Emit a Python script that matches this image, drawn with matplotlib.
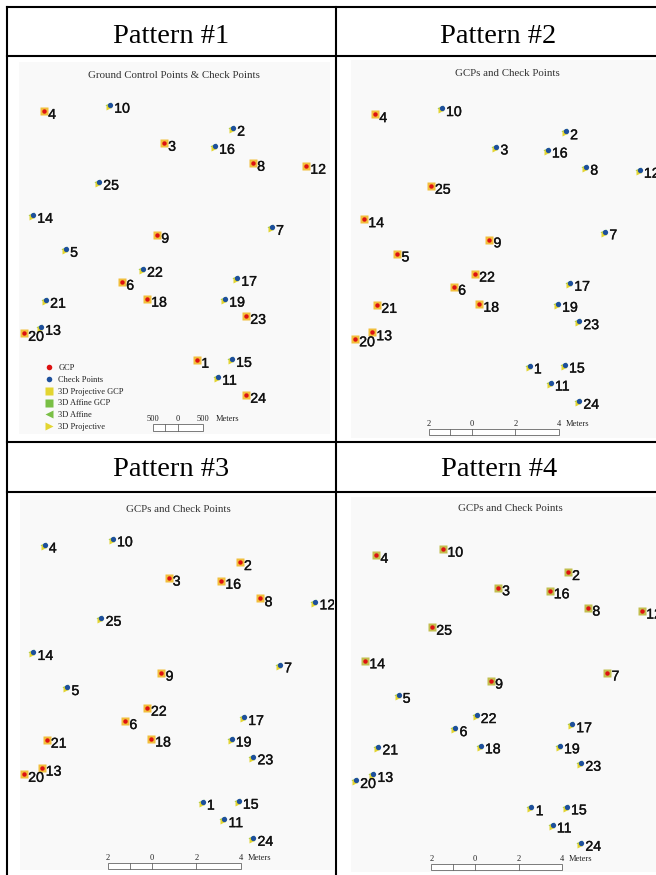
import matplotlib
matplotlib.use('Agg')
import matplotlib.pyplot as plt
import matplotlib.patheffects as pe
from matplotlib.lines import Line2D
from matplotlib.patches import Rectangle
from matplotlib import transforms

# point ids and map coordinates (meters, local grid)
point_ids = list(range(1, 26))
east = [8.05, 9.72, 6.51, 0.93, 1.95, 4.56, 11.53, 10.65, 6.19, 4.00,
        9.02, 13.12, 0.79, 0.42, 9.67, 8.88, 9.91, 5.72, 9.35, 0.00,
        1.02, 5.53, 10.33, 10.33, 3.49]
north = [1.63, 12.42, 11.72, 13.21, 6.79, 5.26, 7.81, 10.79, 7.44, 13.49,
         0.84, 10.65, 3.16, 8.37, 1.67, 11.58, 5.44, 4.47, 4.47, 2.88,
         4.42, 5.86, 3.67, 0.00, 9.91]

pattern_names = ['Pattern #1', 'Pattern #2', 'Pattern #3', 'Pattern #4']
map_titles = ['Ground Control Points & Check Points', 'GCPs and Check Points',
              'GCPs and Check Points', 'GCPs and Check Points']

# GCPs used in each pattern, the rest are check points
gcp_sets = [
    [1, 3, 4, 6, 8, 9, 12, 18, 20, 23, 24],
    [4, 5, 6, 9, 13, 14, 18, 20, 21, 22, 25],
    [2, 3, 6, 8, 9, 13, 16, 18, 20, 21, 22],
    [2, 3, 4, 7, 8, 9, 10, 12, 14, 16, 25],
]

scale_ticks = [[-500, -250, 0, 500], [-2, -1, 0, 2, 4], [-2, -1, 0, 2, 4], [-2, -1, 0, 2, 4]]
scale_labels = [['500', '', '0', '500'], ['2', '', '0', '2', '4'],
                ['2', '', '0', '2', '4'], ['2', '', '0', '2', '4']]

legend_labels = ['GCP', 'Check Points', '3D Projective GCP', '3D Affine GCP',
                 '3D Affine', '3D Projective']

red = '#dd1111'
blue = '#1d4f9c'
yellow = '#e3d531'
green = '#79bf45'
square_colors = ['#f2bf3c', '#f2bf3c', '#f2bf3c', '#c3be4e']
map_bg = '#f9f9f9'

W, H = 656, 875
fig = plt.figure(figsize=(W / 100, H / 100), dpi=100)

# panel layout in pixels: map box (L, T, R, B), origin pixel, pixels per meter
boxes = [(19, 62, 330, 434), (351, 60, 670, 438), (20, 495, 334, 870), (351, 497, 670, 872)]
origins = [(24, 395), (355, 401), (24, 838), (356, 843)]
px_per_m = [21.5, 21.7, 22.2, 21.8]
# scale bar: zero position (m), bottom (m), height (m), map units per label unit
bar_pos = [(7.16, -1.67, 0.33, 25 / 500 / 21.5), (5.39, -1.57, 0.28, 1.0),
           (5.77, -1.40, 0.27, 1.0), (5.46, -1.24, 0.28, 1.0)]
meters_gap = [9, 5, 5, 5]

grid = fig.add_axes([0, 0, 1, 1])
grid.set_xlim(0, W)
grid.set_ylim(H, 0)
grid.axis('off')
grid.set_zorder(10)


def map_axes(box, origin, s):
    L, T, R, B = box
    ax = fig.add_axes([L / W, 1 - B / H, (R - L) / W, (B - T) / H])
    ox, oy = origin
    ax.set_xlim((L - ox) / s, (R - ox) / s)
    ax.set_ylim((oy - B) / s, (oy - T) / s)
    ax.set_facecolor(map_bg)
    ax.set_xticks([])
    ax.set_yticks([])
    for sp in ax.spines.values():
        sp.set_visible(False)
    return ax


def draw_scalebar(ax, ticks, labels, pos, gap):
    x0, y0, h, k = pos
    xs = [x0 + t * k for t in ticks]
    ax.add_patch(Rectangle((xs[0], y0), xs[-1] - xs[0], h, fill=True, fc='white',
                           ec='#666666', lw=0.6, zorder=2))
    for x in xs[1:-1]:
        ax.plot([x, x], [y0, y0 + h], color='#666666', lw=0.6, zorder=3)
    for x, lab in zip(xs, labels):
        ax.annotate(lab, (x, y0 + h), xytext=(0, 2.2), textcoords='offset points',
                    ha='center', va='baseline', fontsize=6, family='Liberation Serif',
                    color='#222222')
    ax.annotate('Meters', (xs[-1], y0 + h), xytext=(gap, 2.2), textcoords='offset points',
                ha='left', va='baseline', fontsize=6, family='Liberation Serif',
                color='#222222')


axes = []
for k in range(4):
    ax = map_axes(boxes[k], origins[k], px_per_m[k])
    axes.append(ax)
    gcp = set(gcp_sets[k])
    gx = [e for i, e in zip(point_ids, east) if i in gcp]
    gy = [n for i, n in zip(point_ids, north) if i in gcp]
    cx = [e for i, e in zip(point_ids, east) if i not in gcp]
    cy = [n for i, n in zip(point_ids, north) if i not in gcp]

    off_green = transforms.offset_copy(ax.transData, fig=fig, x=-2, y=0, units='dots')
    off_yellow = transforms.offset_copy(ax.transData, fig=fig, x=-1, y=-2, units='dots')

    ax.plot(gx, gy, 's', ms=5.4, color=square_colors[k], mec='none', zorder=2)
    ax.plot(gx, gy, 'o', ms=3.2, color=red, mec='none', zorder=3)
    ax.plot(cx, cy, '<', ms=4.2, color=green, mec='none', zorder=2, transform=off_green)
    ax.plot(cx, cy, '>', ms=4.2, color=yellow, mec='none', zorder=2, transform=off_yellow)
    ax.plot(cx, cy, 'o', ms=3.8, color=blue, mec='none', zorder=3)

    for i, e, n in zip(point_ids, east, north):
        ax.annotate(str(i), (e, n), xytext=(3, -5.6), textcoords='offset points',
                    ha='left', va='baseline', fontsize=10.2, family='Liberation Sans',
                    color='#111111', clip_on=True, zorder=4,
                    path_effects=[pe.withStroke(linewidth=0.25, foreground='#111111')])

    draw_scalebar(ax, scale_ticks[k], scale_labels[k], bar_pos[k], meters_gap[k])

# legend in the first map
handles = [
    Line2D([], [], ls='none', marker='o', ms=4, color=red, mec='none'),
    Line2D([], [], ls='none', marker='o', ms=4, color=blue, mec='none'),
    Line2D([], [], ls='none', marker='s', ms=6, color=yellow, mec='none'),
    Line2D([], [], ls='none', marker='s', ms=6, color=green, mec='none'),
    Line2D([], [], ls='none', marker='<', ms=5.5, color=green, mec='none'),
    Line2D([], [], ls='none', marker='>', ms=5.5, color=yellow, mec='none'),
]
axes[0].legend(handles, legend_labels, loc='upper left', bbox_to_anchor=(40, 360),
               bbox_transform=grid.transData, frameon=False, borderpad=0,
               handlelength=1.2, handletextpad=0.5, labelspacing=0.45,
               prop={'family': 'Liberation Serif', 'size': 6}, labelcolor='#222222')

# table lines
lw = 1.5
grid.plot([7, W], [7, 7], color='black', lw=lw)
grid.plot([7, 7], [7, H], color='black', lw=lw)
grid.plot([336, 336], [7, H], color='black', lw=lw)
grid.plot([7, W], [55.5, 55.5], color='black', lw=lw)
grid.plot([7, W], [442, 442], color='black', lw=lw)
grid.plot([7, W], [491.5, 491.5], color='black', lw=lw)

# header cells
header_pos = [(171.5, 42.7), (498, 42.7), (171.5, 476), (499, 476)]
for name, (x, y) in zip(pattern_names, header_pos):
    grid.text(x, y, name, ha='center', va='baseline', fontsize=20.5,
              family='Liberation Serif', color='black')

# map titles
title_pos = [(173.5, 78), (507, 76.5), (178, 511.5), (510, 511)]
for t, (x, y) in zip(map_titles, title_pos):
    grid.text(x, y, t, ha='center', va='baseline', fontsize=7.8,
              family='Liberation Serif', color='#333333')

fig.savefig('out.png', dpi=100)
